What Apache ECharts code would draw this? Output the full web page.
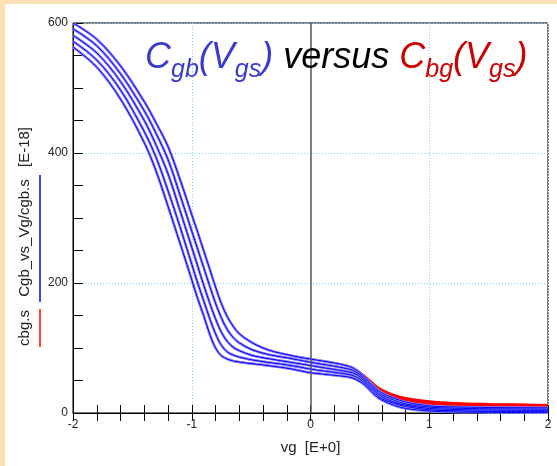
<!DOCTYPE html>
<html><head><meta charset="utf-8">
<script src="https://cdn.jsdelivr.net/npm/echarts@6/dist/echarts.min.js"></script>
<style>
html,body{margin:0;padding:0;background:#fde1b4;width:557px;height:466px;overflow:hidden;}
#panel{position:absolute;left:5px;top:4px;right:0;bottom:0;background:#fff;}
#chart{position:absolute;left:0;top:0;width:557px;height:466px;}
</style></head>
<body><div id="panel"></div><div id="chart"></div>
<script>
// x values (vg)
const vg = [-2, -1.8, -1.6, -1.4, -1.3, -1.2, -1.1, -1.0, -0.95, -0.9, -0.85, -0.8, -0.75, -0.7, -0.65, -0.6, -0.5, -0.4, -0.3, -0.2, -0.1, 0, 0.1, 0.2, 0.3, 0.35, 0.4, 0.45, 0.5, 0.55, 0.6, 0.7, 0.8, 1.0, 1.2, 1.5, 2.0];
// Cgb_vs_Vg/cgb.s (blue) curves
const cgbA = [600,575,534,479,446,410,360,305,278,250,222,194,168,148,133,122,109,100,94,90,86,83,80,77,73,70,64,56,47,38,31,23,17,11,9.5,8.5,8];
const cgbB = [591,565,522,465,430,390,336,280,252,224,196,169,146,128,116,108,98,92,88,85,81.5,78,75,72,68.5,66,61,53,44,35,28,20,14,9,7.5,6.5,6];
const cgbC = [581,554,510,450,412,368,312,255,226,197,170,145,124,110,101,96,89,85,82,79,76,73,70,67,64,62,58,50,41,32,25,17,12,7,5.5,4.5,4];
const cgbD = [572,543,497,433,393,342,287,229,200,173,146,122,104,94,89,86,82,79,76.5,74,71,67.5,65,62.5,60,58,54,47,38,29,22,15,10,5,3.5,2.5,2];
const cgbE = [563,532,483,416,372,318,262,205,176,150,122,100,88,83,80,78.5,76,74,71.5,69,65.5,62,60,58,56,54,50,44,35,26,20,12,7,3,1.5,1,0.5];
// cbg.s (red) curves
const cbgA = [600,575,534,479,446,410,360,305,278,250,222,194,168,148,133,122,109,100,94,90,86,83,80,77,73,70,65,58,50,42,36,28,23,18,15.5,14,12.5];
const cbgB = [591,565,522,465,430,390,336,280,252,224,196,169,146,128,116,108,98,92,88,85,81.5,78,75,72,68.5,66,62,55,47,39,33,26,21,17,14.5,13,12];
const cbgC = [581,554,510,450,412,368,312,255,226,197,170,145,124,110,101,96,89,85,82,79,76,73,70,67,64,62,59,52,44,36,30,24,19.5,16,13.5,12,11];
const cbgD = [572,543,497,433,393,342,287,229,200,173,146,122,104,94,89,86,82,79,76.5,74,71,67.5,65,62.5,60,58,55,49,41,33,27,22,18,15,12.5,11,10];
const cbgE = [563,532,483,416,372,318,262,205,176,150,122,100,88,83,80,78.5,76,74,71.5,69,65.5,62,60,58,56,54,51,45,38,30,24,20,16.5,14,12,10.5,9.5];
const xTicks = [-2, -1, 0, 1, 2];
const yTicks = [0, 200, 400, 600];

const FONT = '"Liberation Sans", Arial, sans-serif';
const pairs = ys => vg.map((x, i) => [x, ys[i]]);
const SM = 0.35;
const series = [];
[cbgA, cbgB, cbgC, cbgD, cbgE].forEach((d, i) => series.push({
  type: 'line', data: pairs(d), showSymbol: false, smooth: SM,
  lineStyle: {color: '#ff0000', width: 2}, z: 2,
  markLine: i === 0 ? {silent: true, symbol: 'none', label: {show: false},
    lineStyle: {color: '#555', width: 1.5, type: 'solid'}, data: [{xAxis: 0}]} : undefined
}));
[cgbA, cgbB, cgbC, cgbD, cgbE].forEach(d => series.push({
  type: 'line', data: pairs(d), showSymbol: false, smooth: SM,
  lineStyle: {color: '#8c8cff', width: 2.6}, z: 3
}));
[cgbA, cgbB, cgbC, cgbD, cgbE].forEach(d => series.push({
  type: 'line', data: pairs(d), showSymbol: false, smooth: SM,
  lineStyle: {color: '#0000ff', width: 1}, z: 4
}));

const chart = echarts.init(document.getElementById('chart'), null, {renderer: 'canvas'});
chart.setOption({
  animation: false,
  backgroundColor: 'transparent',
  grid: {left: 73, right: 9, top: 23, bottom: 53, show: true, borderColor: '#000', borderWidth: 1, backgroundColor: 'transparent'},
  xAxis: [{
    type: 'value', min: xTicks[0], max: xTicks[xTicks.length - 1], interval: 1,
    axisLine: {show: true, onZero: false, lineStyle: {color: '#000'}},
    axisTick: {show: true, inside: true, length: 8, lineStyle: {color: '#000'}},
    minorTick: {show: true, splitNumber: 5, length: 8, lineStyle: {color: '#000'}},
    axisLabel: {fontSize: 12, color: '#222', fontFamily: FONT, margin: 6},
    splitLine: {show: true, lineStyle: {color: ['#fff', '#7fcfff', 'transparent', '#7fcfff', '#fff'], type: [1, 2], width: 1}},
    name: 'vg  [E+0]', nameLocation: 'middle', nameGap: 27,
    nameTextStyle: {fontSize: 15, color: '#222', fontFamily: FONT}
  }, {
    type: 'value', position: 'top', min: xTicks[0], max: xTicks[xTicks.length - 1], interval: 1,
    axisLine: {show: false},
    axisTick: {show: true, inside: true, length: 8, lineStyle: {color: '#000'}},
    minorTick: {show: true, splitNumber: 5, length: 8, lineStyle: {color: '#000'}},
    axisLabel: {show: false}, splitLine: {show: false}
  }],
  yAxis: {
    type: 'value', min: yTicks[0], max: yTicks[yTicks.length - 1], interval: 200,
    axisLine: {show: true, onZero: false, lineStyle: {color: '#000'}},
    axisTick: {show: true, inside: true, length: 10, lineStyle: {color: '#000'}},
    minorTick: {show: true, splitNumber: 4, length: 10, lineStyle: {color: '#000'}},
    axisLabel: {fontSize: 12, color: '#222', fontFamily: FONT, margin: 5},
    splitLine: {show: true, lineStyle: {color: '#7fcfff', type: [1, 2], width: 1}}
  },
  graphic: [
    {type: 'text', x: 25, y: 328, rotation: Math.PI / 2,
     style: {text: 'cbg.s', fontSize: 15, fontFamily: FONT, fill: '#222', textAlign: 'center', textVerticalAlign: 'middle'}},
    {type: 'text', x: 25, y: 238, rotation: Math.PI / 2,
     style: {text: 'Cgb_vs_Vg/cgb.s', fontSize: 15, fontFamily: FONT, fill: '#222', textAlign: 'center', textVerticalAlign: 'middle'}},
    {type: 'text', x: 25, y: 147, rotation: Math.PI / 2,
     style: {text: '[E-18]', fontSize: 15, fontFamily: FONT, fill: '#222', textAlign: 'center', textVerticalAlign: 'middle'}},
    {type: 'line', shape: {x1: 40, y1: 309, x2: 40, y2: 347}, style: {stroke: '#ff0000', lineWidth: 1.5}},
    {type: 'line', shape: {x1: 40, y1: 175, x2: 40, y2: 302}, style: {stroke: '#0000ff', lineWidth: 1.5}},
    {type: 'text', x: 145, y: 58, z: 10,
     style: {
       text: '{bC|C}{bs|gb}{bC|(V}{bs|gs}{bC|)}{k| versus }{rC|C}{rs|bg}{rC|(V}{rs|gs}{rC|)}',
       textVerticalAlign: 'middle',
       rich: {
         bC: {fontSize: 36, fontStyle: 'italic', fontFamily: FONT, fill: '#3a3acc', lineHeight: 50, verticalAlign: 'middle'},
         bs: {fontSize: 25, fontStyle: 'italic', fontFamily: FONT, fill: '#3a3acc', lineHeight: 26, verticalAlign: 'bottom'},
         k: {fontSize: 36, fontStyle: 'italic', fontFamily: FONT, fill: '#000', lineHeight: 50, verticalAlign: 'middle'},
         rC: {fontSize: 36, fontStyle: 'italic', fontFamily: FONT, fill: '#cc0000', lineHeight: 50, verticalAlign: 'middle'},
         rs: {fontSize: 25, fontStyle: 'italic', fontFamily: FONT, fill: '#cc0000', lineHeight: 26, verticalAlign: 'bottom'}
       }
     }}
  ],
  series: series
});
</script></body></html>
